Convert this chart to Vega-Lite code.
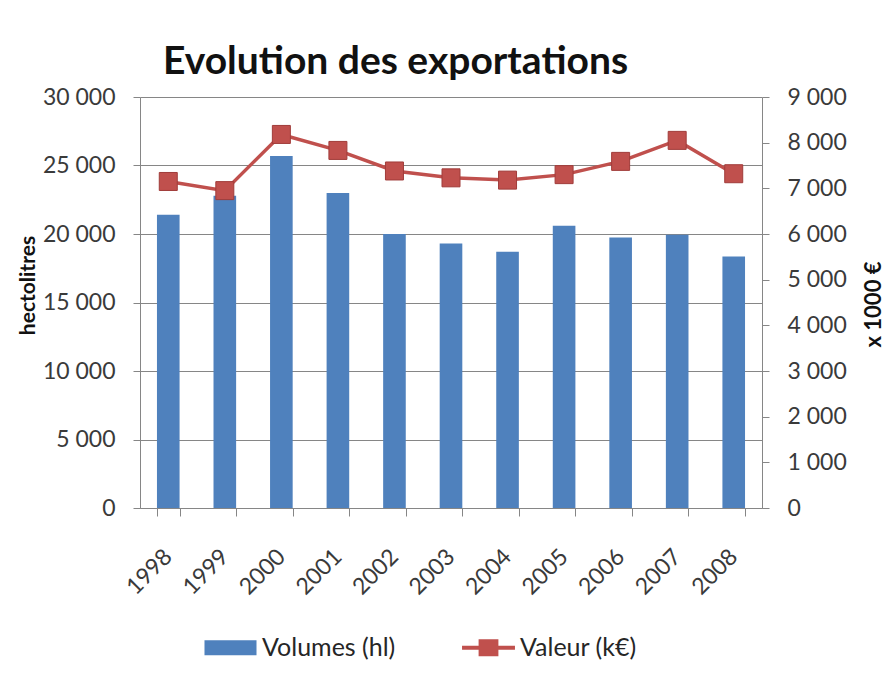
{
  "$schema": "https://vega.github.io/schema/vega-lite/v6.json",
  "width": 622,
  "height": 411,
  "autosize": {"type": "none"},
  "padding": {"left": 140, "top": 97, "right": 124, "bottom": 192},
  "background": "white",
  "config": {
    "view": {"stroke": null},
    "font": "Lato",
    "axis": {
      "labelFont": "Lato",
      "labelFontSize": 23,
      "labelColor": "#3a3a3a",
      "domainColor": "#868686",
      "tickColor": "#868686",
      "gridColor": "#868686",
      "titleFont": "Lato",
      "titleColor": "#111111"
    }
  },
  "title": {
    "text": "Evolution des exportations",
    "anchor": "start",
    "frame": "group",
    "dx": 23,
    "dy": 52,
    "offset": 25,
    "baseline": "alphabetic",
    "font": "Lato",
    "fontSize": 39,
    "fontWeight": "bold",
    "color": "#111111"
  },
  "data": {
    "values": [
      {"annee": "1998", "volume": 21400, "valeur": 7150},
      {"annee": "1999", "volume": 22800, "valeur": 6950},
      {"annee": "2000", "volume": 25700, "valeur": 8180},
      {"annee": "2001", "volume": 23000, "valeur": 7830},
      {"annee": "2002", "volume": 20000, "valeur": 7380},
      {"annee": "2003", "volume": 19300, "valeur": 7230},
      {"annee": "2004", "volume": 18700, "valeur": 7180},
      {"annee": "2005", "volume": 20600, "valeur": 7300},
      {"annee": "2006", "volume": 19750, "valeur": 7590},
      {"annee": "2007", "volume": 19950, "valeur": 8050},
      {"annee": "2008", "volume": 18350, "valeur": 7320}
    ]
  },
  "encoding": {
    "x": {
      "field": "annee",
      "type": "ordinal",
      "scale": {"paddingInner": 0.6, "paddingOuter": 0.3},
      "axis": {
        "title": null,
        "labelAngle": -45,
        "labelFontSize": 23,
        "labelOffset": -8,
        "labelPadding": 29,
        "tickBand": "extent",
        "tickSize": 8,
        "domainColor": "#868686"
      }
    }
  },
  "layer": [
    {
      "mark": {"type": "bar", "color": "#4F81BD"},
      "encoding": {
        "y": {
          "field": "volume",
          "type": "quantitative",
          "scale": {"domain": [0, 30000], "nice": false},
          "axis": {
            "orient": "left",
            "title": "hectolitres",
            "titleFontSize": 21,
            "titleFontWeight": "bold",
            "titleX": -112,
            "titleY": 188,
            "titleBaseline": "middle",
            "values": [0, 5000, 10000, 15000, 20000, 25000, 30000],
            "labelExpr": "replace(format(datum.value, ','), ',', ' ')",
            "grid": true,
            "tickSize": 7,
            "labelPadding": 18
          }
        },
        "color": {
          "datum": "Volumes (hl)",
          "scale": {"domain": ["Volumes (hl)", "Valeur (k€)"], "range": ["#4F81BD", "#C0504D"]},
          "legend": {
            "title": null,
            "orient": "none",
            "direction": "horizontal",
            "legendX": 78,
            "legendY": 538,
            "symbolSize": 324,
            "labelFont": "Lato",
            "labelFontSize": 25,
            "labelColor": "#262626",
            "labelOffset": 19,
            "columnPadding": 66,
            "encode": {
              "symbols": {
                "update": {
                  "shape": {"signal": "datum.value === 'Volumes (hl)' ? 'M-2.89,-0.83H2.89V0.83H-2.89Z' : 'M-2.94,-0.22H2.94V0.22H-2.94Z M-1.1,-0.95H1.1V0.95H-1.1Z'"},
                  "fill": {"signal": "datum.value === 'Volumes (hl)' ? '#4F81BD' : '#C0504D'"},
                  "strokeWidth": {"value": 0},
                  "opacity": {"value": 1}
                }
              }
            }
          }
        }
      }
    },
    {
      "encoding": {
        "y": {
          "field": "valeur",
          "type": "quantitative",
          "scale": {"domain": [0, 9000], "nice": false},
          "axis": {
            "orient": "right",
            "title": "x 1000 €",
            "titleFontSize": 22,
            "titleFontWeight": "bold",
            "titleAngle": -90,
            "titleX": 111,
            "titleY": 207,
            "titleBaseline": "middle",
            "values": [0, 1000, 2000, 3000, 4000, 5000, 6000, 7000, 8000, 9000],
            "labelExpr": "replace(format(datum.value, ','), ',', ' ')",
            "grid": false,
            "tickSize": 7,
            "labelPadding": 18
          }
        },
        "color": {"datum": "Valeur (k€)"}
      },
      "layer": [
        {"mark": {"type": "line", "strokeWidth": 3.5, "color": "#BE4B48"}},
        {"mark": {"type": "point", "shape": "square", "filled": true, "size": 324, "color": "#C0504D", "stroke": "#A03C3A", "strokeWidth": 1, "opacity": 1}}
      ]
    }
  ],
  "resolve": {"scale": {"y": "independent"}}
}
